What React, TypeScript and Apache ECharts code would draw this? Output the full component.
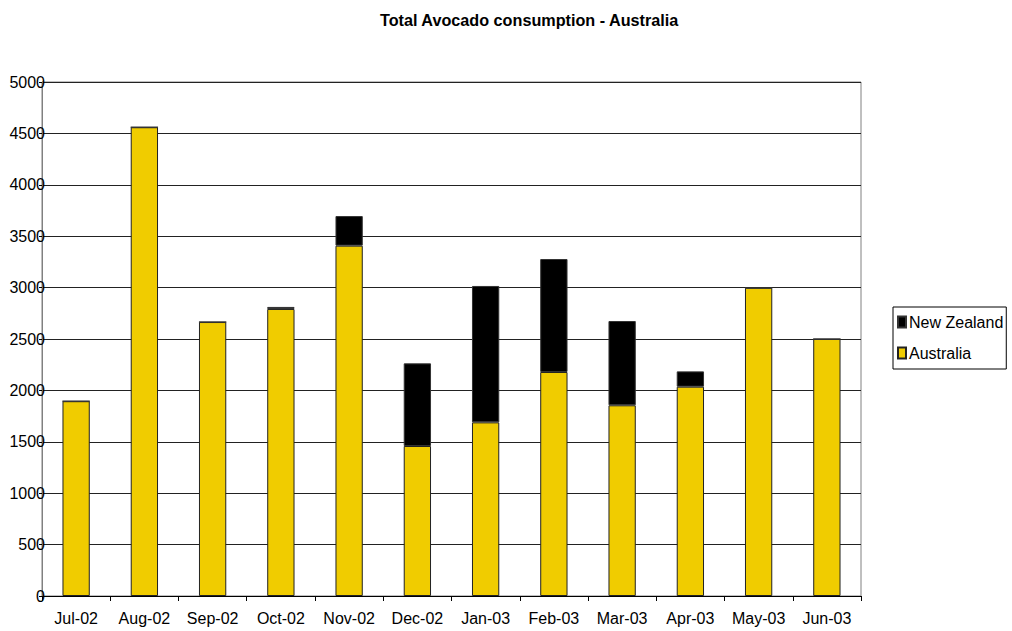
import React, { useEffect, useRef } from "react";
import * as echarts from "echarts";

const months = ["Jul-02", "Aug-02", "Sep-02", "Oct-02", "Nov-02", "Dec-02", "Jan-03", "Feb-03", "Mar-03", "Apr-03", "May-03", "Jun-03"];
const australia = [1895, 4560, 2665, 2792, 3408, 1459, 1689, 2179, 1855, 2036, 2998, 2500];
const newZealand = [0, 0, 0, 20, 288, 804, 1327, 1099, 820, 149, 0, 0];
const yTicks = [0, 500, 1000, 1500, 2000, 2500, 3000, 3500, 4000, 4500, 5000];

const FONT = "'Liberation Sans', Arial, sans-serif";

export default function App() {
  const ref = useRef<HTMLDivElement>(null);
  useEffect(() => {
    if (!ref.current) return;
    const chart = echarts.init(ref.current, undefined, { renderer: "svg" });
    chart.setOption({
      animation: false,
      backgroundColor: "#fff",
      textStyle: { fontFamily: FONT },
      title: {
        text: "Total Avocado consumption - Australia",
        left: 380,
        top: 12,
        padding: 0,
        textStyle: { fontSize: 16.2, fontWeight: "bold", color: "#000", fontFamily: FONT },
      },
      legend: {
        orient: "vertical",
        left: 893,
        top: 307,
        data: ["New Zealand", "Australia"],
        borderColor: "#000",
        borderWidth: 1,
        padding: [7, 3, 8, 4],
        itemWidth: 8,
        itemHeight: 11,
        itemGap: 15,
        icon: "rect",
        textStyle: { fontSize: 16, color: "#000", fontFamily: FONT, padding: [0, 0, 0, -2] },
      },
      grid: {
        left: 42,
        right: 151,
        top: 82,
        bottom: 35,
        show: true,
        borderColor: "#808080",
        borderWidth: 1,
      },
      xAxis: {
        type: "category",
        data: months,
        axisLine: { lineStyle: { color: "#000", width: 1 } },
        axisTick: { show: true, alignWithLabel: false, length: 5, lineStyle: { color: "#000" } },
        axisLabel: { color: "#000", fontSize: 16, margin: 14, fontFamily: FONT, interval: 0 },
      },
      yAxis: {
        type: "value",
        min: 0,
        max: 5000,
        interval: 500,
        axisLine: { show: true, lineStyle: { color: "#808080", width: 1 } },
        axisTick: { show: true, length: 3, lineStyle: { color: "#000" } },
        axisLabel: {
          color: "#000",
          fontSize: 16,
          margin: -3,
          fontFamily: FONT,
          padding: [0, 0, 4, 0],
          formatter: (v: number) => (yTicks.includes(v) ? String(v) : ""),
        },
        splitLine: { show: true, lineStyle: { color: "#222", width: 1 } },
      },
      series: [
        {
          name: "Australia",
          type: "bar",
          stack: "total",
          data: australia,
          barWidth: "40%",
          itemStyle: { color: "#f0cc00", borderColor: "#222", borderWidth: 1 },
        },
        {
          name: "New Zealand",
          type: "bar",
          stack: "total",
          data: newZealand,
          barWidth: "40%",
          itemStyle: { color: "#000", borderColor: "#333", borderWidth: 1 },
        },
      ],
    });
    return () => chart.dispose();
  }, []);
  return (
    <div
      ref={ref}
      style={{ position: "fixed", left: 0, top: 0, width: 1012, height: 631 }}
    />
  );
}
